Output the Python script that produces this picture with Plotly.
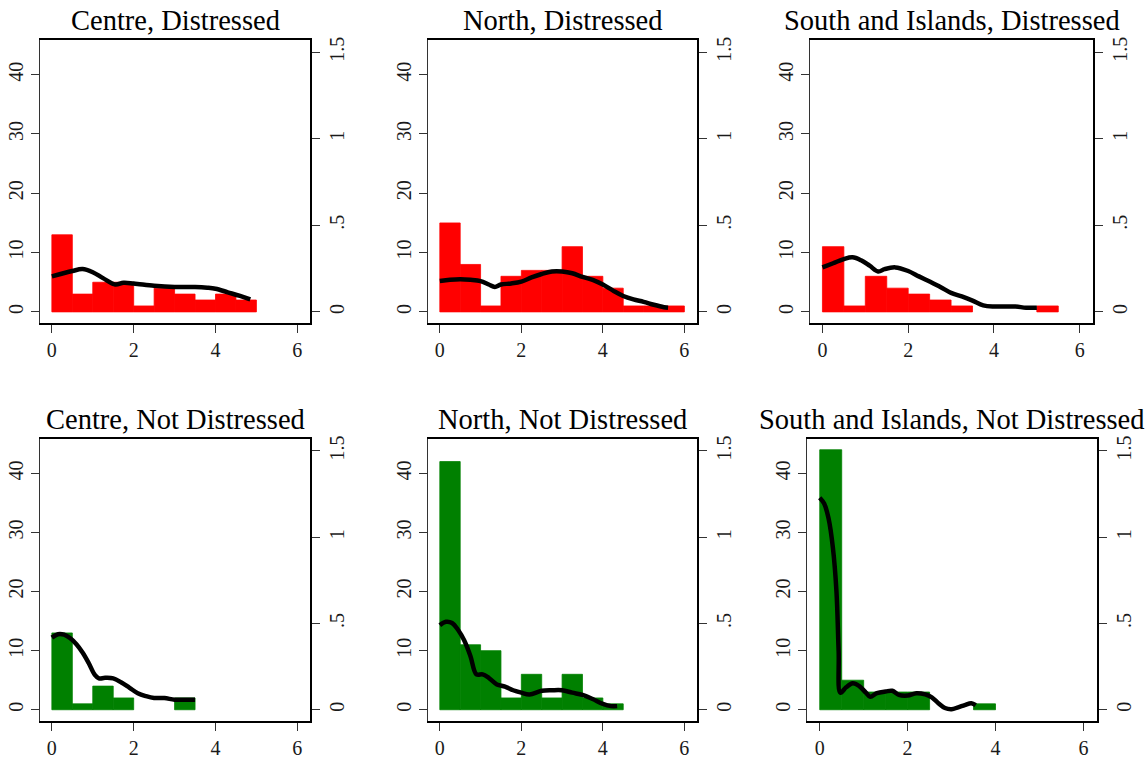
import plotly.graph_objects as go

# ---------------- data ----------------
panel_titles = [
    "Centre, Distressed", "North, Distressed", "South and Islands, Distressed",
    "Centre, Not Distressed", "North, Not Distressed", "South and Islands, Not Distressed",
]
bin_width = 0.5
bin_starts = [0.0, 0.5, 1.0, 1.5, 2.0, 2.5, 3.0, 3.5, 4.0, 4.5, 5.0, 5.5]

counts_centre_d = [13, 3, 5, 5, 1, 4, 3, 2, 3, 2]
counts_north_d = [15, 8, 1, 6, 7, 7, 11, 6, 4, 1, 1, 1]
counts_south_d = [11, 1, 6, 4, 3, 2, 1, 0, 0, 0, 1]
counts_centre_nd = [13, 1, 4, 2, 0, 0, 2]
counts_north_nd = [42, 11, 10, 2, 6, 2, 6, 2, 1]
counts_south_nd = [44, 5, 3, 3, 3, 0, 0, 1]

kx_centre_d = [0, 0.5, 0.75, 1.0, 1.25, 1.55, 1.75, 2.0, 2.5, 3.0, 3.5, 3.8, 4.0, 4.3, 4.6, 4.85]
kd_centre_d = [0.205, 0.236, 0.247, 0.229, 0.195, 0.158, 0.168, 0.164, 0.151, 0.144, 0.144,
               0.140, 0.134, 0.113, 0.092, 0.072]

kx_north_d = [0, 0.25, 0.5, 0.75, 1.0, 1.2, 1.35, 1.5, 1.75, 2.0, 2.25, 2.5, 2.75, 3.0, 3.25,
              3.5, 3.75, 4.0, 4.25, 4.5, 4.75, 5.0, 5.25, 5.5, 5.6]
kd_north_d = [0.178, 0.185, 0.188, 0.185, 0.178, 0.158, 0.144, 0.158, 0.164, 0.175, 0.199,
              0.219, 0.233, 0.233, 0.223, 0.202, 0.185, 0.158, 0.123, 0.092, 0.072, 0.058,
              0.041, 0.027, 0.024]

kx_south_d = [0, 0.25, 0.5, 0.7, 0.9, 1.1, 1.3, 1.45, 1.7, 2.0, 2.25, 2.5, 2.75, 3.0, 3.25,
              3.5, 3.75, 4.0, 4.25, 4.5, 4.75, 5.0]
kd_south_d = [0.257, 0.281, 0.305, 0.315, 0.298, 0.267, 0.233, 0.247, 0.257, 0.236, 0.205,
              0.175, 0.144, 0.110, 0.089, 0.065, 0.038, 0.031, 0.031, 0.031, 0.024, 0.024]

kx_centre_nd = [0, 0.15, 0.3, 0.45, 0.6, 0.75, 0.9, 1.05, 1.15, 1.3, 1.5, 1.7, 1.9, 2.1, 2.3,
                2.5, 2.75, 3.0, 3.25, 3.5]
kd_centre_nd = [0.418, 0.438, 0.435, 0.414, 0.380, 0.332, 0.271, 0.202, 0.182, 0.185, 0.182,
                0.158, 0.127, 0.096, 0.079, 0.068, 0.068, 0.058, 0.058, 0.058]

kx_north_nd = [0, 0.15, 0.3, 0.45, 0.6, 0.75, 0.9, 1.05, 1.2, 1.4, 1.6, 1.8, 2.0, 2.2, 2.5,
               2.75, 3.0, 3.25, 3.5, 3.75, 4.0, 4.2, 4.35]
kd_north_nd = [0.490, 0.510, 0.503, 0.462, 0.401, 0.312, 0.205, 0.205, 0.185, 0.147, 0.134,
               0.113, 0.099, 0.089, 0.110, 0.113, 0.113, 0.099, 0.086, 0.062, 0.034, 0.021, 0.021]

kx_south_nd = [0, 0.1, 0.2, 0.3, 0.38, 0.43, 0.47, 0.6, 0.75, 0.9, 1.05, 1.15, 1.3, 1.5, 1.65,
               1.8, 2.0, 2.2, 2.4, 2.55, 2.7, 2.85, 3.0, 3.15, 3.3, 3.45, 3.55]
kd_south_nd = [1.229, 1.195, 1.110, 0.938, 0.688, 0.339, 0.099, 0.130, 0.154, 0.137, 0.099,
               0.075, 0.096, 0.106, 0.110, 0.086, 0.082, 0.096, 0.089, 0.072, 0.038, 0.010,
               0.003, 0.014, 0.027, 0.038, 0.027]

x_ticks = [0, 2, 4, 6]
left_ticks = [0, 10, 20, 30, 40]
right_ticks = [0, 0.5, 1, 1.5]
right_tick_labels = ["0", ".5", "1", "1.5"]

panels = [
    (counts_centre_d, kx_centre_d, kd_centre_d, "#FF0000"),
    (counts_north_d, kx_north_d, kd_north_d, "#FF0000"),
    (counts_south_d, kx_south_d, kd_south_d, "#FF0000"),
    (counts_centre_nd, kx_centre_nd, kd_centre_nd, "#008000"),
    (counts_north_nd, kx_north_nd, kd_north_nd, "#008000"),
    (counts_south_nd, kx_south_nd, kd_south_nd, "#008000"),
]

# ---------------- layout geometry ----------------
W, H = 1147, 759
box_x = [(40, 310), (428, 697), (810, 1093), (40, 310), (428, 697), (807, 1097)]
box_y = [(37, 323), (37, 323), (37, 323), (439, 724), (439, 724), (439, 724)]
ratio = 29.2
left_range = [-1.95, 45.9]
right_range = [left_range[0] / ratio, left_range[1] / ratio]
x_range = [-0.29, 6.31]

FONT = "Liberation Serif"
tick_font = dict(family=FONT, size=20, color="#1a1a1a")

fig = go.Figure()
layout = dict(
    width=W, height=H, margin=dict(l=0, r=0, t=0, b=0),
    paper_bgcolor="white", plot_bgcolor="white", showlegend=False,
    barmode="overlay", annotations=[],
)

for i, (counts, kx, kd, color) in enumerate(panels):
    n = i + 1
    xa = "x" if n == 1 else f"x{n}"
    ya = f"y{2 * n - 1}" if n > 1 else "y"
    yb = f"y{2 * n}"
    centers = [s + bin_width / 2 for s in bin_starts[:len(counts)]]
    edge_w = [0.8 if c > 0 else 0 for c in counts]
    fig.add_trace(go.Bar(x=centers, y=counts, width=bin_width,
                         marker=dict(color=color, line=dict(width=edge_w, color=color)),
                         xaxis=xa, yaxis=ya, hoverinfo="skip"))
    fig.add_trace(go.Scatter(x=kx, y=kd, mode="lines", line=dict(color="black", width=4.5, shape="spline"),
                             xaxis=xa, yaxis=yb, hoverinfo="skip"))

    x0, x1 = box_x[i]
    y0, y1 = box_y[i]
    xd = [x0 / W, x1 / W]
    yd = [1 - y1 / H, 1 - y0 / H]
    xkey = "xaxis" if n == 1 else f"xaxis{n}"
    yakey = "yaxis" if n == 1 else f"yaxis{2 * n - 1}"
    ybkey = f"yaxis{2 * n}"
    yname = "y" if n == 1 else f"y{2 * n - 1}"
    xname = "x" if n == 1 else f"x{n}"
    layout[xkey] = dict(domain=xd, range=x_range, anchor=yname, tickvals=x_ticks,
                        ticks="outside", ticklen=8, tickcolor="#333", showgrid=False, zeroline=False,
                        showline=True, mirror=True, linecolor="black", linewidth=1.6,
                        tickfont=tick_font, fixedrange=True)
    layout[yakey] = dict(domain=yd, range=left_range, anchor=xname, tickvals=left_ticks,
                         ticks="outside", ticklen=8, tickcolor="#333", showgrid=False, zeroline=False,
                         showline=True, linecolor="#333", linewidth=1.2, tickangle=-90,
                         tickfont=tick_font, fixedrange=True)
    layout[ybkey] = dict(domain=yd, range=right_range, anchor=xname, overlaying=yname, side="right",
                         tickvals=right_ticks, ticktext=right_tick_labels,
                         ticks="outside", ticklen=8, tickcolor="#333", showgrid=False, zeroline=False,
                         showline=True, linecolor="black", linewidth=2, tickangle=-90,
                         tickfont=tick_font, fixedrange=True)
    layout["annotations"].append(dict(
        text=panel_titles[i], x=(x0 + x1) / 2 / W, y=1 - (y0 - 19) / H, xref="paper", yref="paper",
        xanchor="center", yanchor="middle", showarrow=False,
        font=dict(family=FONT, size=28.5, color="black")))

fig.update_layout(**layout)
fig.write_html("out.html", config={"displayModeBar": False},
               post_script="document.body.style.margin='0';document.body.style.overflow='hidden';")
